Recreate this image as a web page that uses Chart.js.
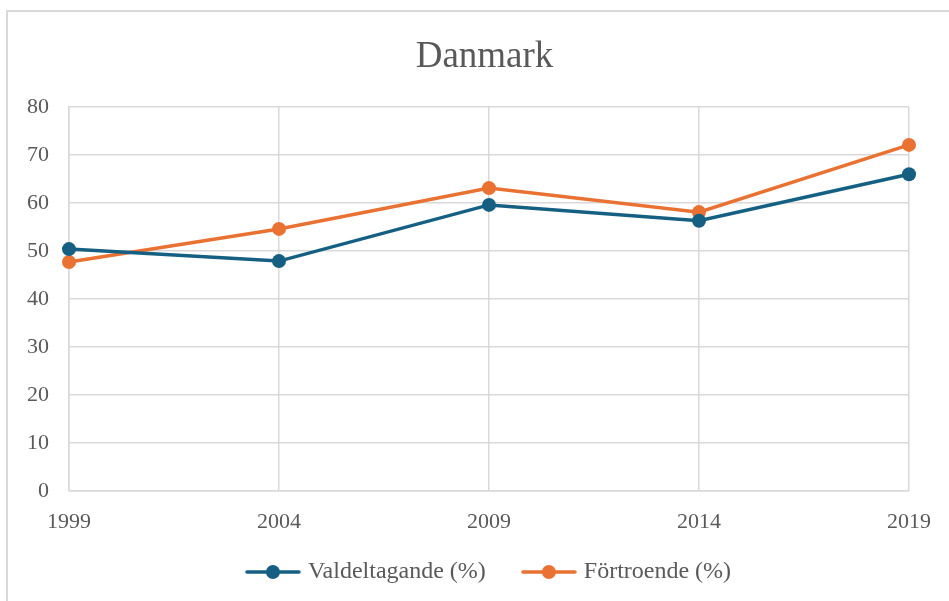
<!DOCTYPE html>
<html>
<head>
<meta charset="utf-8">
<script src="https://cdn.jsdelivr.net/npm/chart.js@4"></script>
<style>
  html, body { margin: 0; padding: 0; background: #fff; overflow: hidden; }
  #wrap { position: relative; width: 949px; height: 601px; }
  #frame { position: absolute; left: 6px; top: 10px; width: 980px; height: 640px; border: 2px solid #d9d9d9; pointer-events: none; }
</style>
</head>
<body>
<div id="wrap">
  <canvas id="chart" width="949" height="601"></canvas>
  <div id="frame"></div>
</div>
<script>
// Data
const years = ['1999', '2004', '2009', '2014', '2019'];
const valdeltagande = [50.4, 47.9, 59.6, 56.3, 66.0];
const fortroende = [47.7, 54.6, 63.1, 58.1, 72.1];
const seriesNames = ['Valdeltagande (%)', 'Förtroende (%)'];
const seriesColors = ['#156082', '#e97132'];

const textColor = '#595959';
const gridColor = '#d9d9d9';
const serif = "'Liberation Serif', 'Times New Roman', serif";

// legend marker: line with a dot in the middle
function legendMarker(color) {
    const c = document.createElement('canvas');
    c.width = 56;
    c.height = 16;
    const ctx = c.getContext('2d');
    ctx.strokeStyle = color;
    ctx.lineWidth = 3.5;
    ctx.lineCap = 'round';
    ctx.beginPath();
    ctx.moveTo(2, 8);
    ctx.lineTo(54, 8);
    ctx.stroke();
    ctx.fillStyle = color;
    ctx.beginPath();
    ctx.arc(28, 8, 7, 0, Math.PI * 2);
    ctx.fill();
    return c;
}

// the original centers title and legend on the whole frame, not the plot
const boxShift = {
    id: 'boxShift',
    afterLayout(chart) {
        chart.legend.left += 36;
        chart.legend.right += 36;
        chart.legend.top -= 31;
        chart.legend.bottom -= 31;
        chart.titleBlock.left += 30;
        chart.titleBlock.right += 30;
    }
};

const ctx = document.getElementById('chart').getContext('2d');
const chart = new Chart(ctx, {
    type: 'line',
    data: {
        labels: years,
        datasets: [
            {
                label: seriesNames[0],
                data: valdeltagande,
                borderColor: seriesColors[0],
                backgroundColor: seriesColors[0],
                borderWidth: 3.5,
                pointRadius: 7,
                pointBorderWidth: 0,
                tension: 0
            },
            {
                label: seriesNames[1],
                data: fortroende,
                borderColor: seriesColors[1],
                backgroundColor: seriesColors[1],
                borderWidth: 3.5,
                pointRadius: 7,
                pointBorderWidth: 0,
                tension: 0
            }
        ]
    },
    plugins: [boxShift],
    options: {
        responsive: false,
        animation: false,
        layout: { padding: { left: 0, right: 40, top: 0, bottom: -24 } },
        plugins: {
            title: {
                display: true,
                text: 'Danmark',
                color: textColor,
                font: { family: serif, size: 37, weight: 'normal' },
                padding: { top: 35.4, bottom: 27.2 }
            },
            legend: {
                position: 'bottom',
                labels: {
                    color: textColor,
                    font: { family: serif, size: 24 },
                    usePointStyle: true,
                    pointStyleWidth: 46,
                    padding: 40,
                    generateLabels: function(chart) {
                        return chart.data.datasets.map((ds, i) => ({
                            text: ds.label,
                            fillStyle: ds.borderColor,
                            strokeStyle: ds.borderColor,
                            pointStyle: legendMarker(ds.borderColor),
                            fontColor: textColor,
                            datasetIndex: i,
                            hidden: false,
                            lineWidth: 0
                        }));
                    }
                }
            },
            tooltip: { enabled: false }
        },
        scales: {
            x: {
                offset: false,
                grid: { color: gridColor, lineWidth: 1.5, drawTicks: false },
                border: { color: gridColor, width: 1.5 },
                ticks: { color: textColor, font: { family: serif, size: 22 }, padding: 18, maxRotation: 0 },
                afterFit: function(scale) { scale.height = 60; }
            },
            y: {
                min: 0,
                max: 80,
                grid: { color: gridColor, lineWidth: 1.5, drawTicks: false },
                border: { color: gridColor, width: 1.5 },
                ticks: { stepSize: 10, color: textColor, font: { family: serif, size: 22 }, padding: 20 },
                afterFit: function(scale) { scale.width = 69; }
            }
        }
    }
});
</script>
</body>
</html>
